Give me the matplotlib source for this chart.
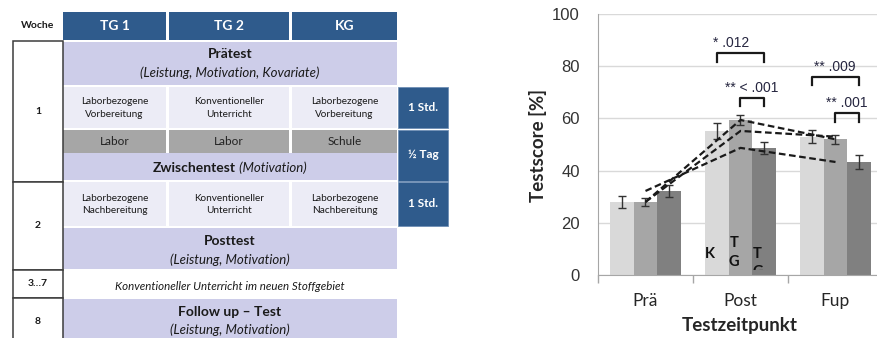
import matplotlib
matplotlib.use("Agg")
import matplotlib.pyplot as plt
from matplotlib.patches import Rectangle
from matplotlib.transforms import Bbox, TransformedBbox

# ---------------- data ----------------
timepoints = ["Prä", "Post", "Fup"]
groups = ["KG", "TG 2", "TG 1"]
scores_kg = [28.0, 55.2, 53.0]
scores_tg2 = [28.0, 59.4, 52.0]
scores_tg1 = [32.2, 48.7, 43.3]
err_kg = [2.3, 3.0, 2.5]
err_tg2 = [1.6, 2.0, 1.8]
err_tg1 = [2.3, 2.3, 2.5]
y_ticks = [0, 20, 40, 60, 80, 100]

sig_labels = ["* .012", "** < .001", "** .009", "** .001"]
sig_time = [1, 1, 2, 2]
sig_from = [0, 1, 0, 1]
sig_to = [2, 2, 2, 2]
sig_height = [85.0, 68.0, 76.0, 62.0]

bar_letters = ["K", "T\nG", "T\nG"]

# table texts
table_head_label = "Woche"
header_groups = ["TG 1", "TG 2", "KG"]
row_prep = ["Laborbezogene\nVorbereitung", "Konventioneller\nUnterricht", "Laborbezogene\nVorbereitung"]
row_place = ["Labor", "Labor", "Schule"]
row_follow = ["Laborbezogene\nNachbereitung", "Konventioneller\nUnterricht", "Laborbezogene\nNachbereitung"]
weeks = ["1", "2", "3…7", "8"]
durations = ["1 Std.", "½ Tag", "1 Std."]
pretest = ("Prätest", "(Leistung, Motivation, Kovariate)")
midtest = ("Zwischentest", "(Motivation)")
posttest = ("Posttest", "(Leistung, Motivation)")
between = "Konventioneller Unterricht im neuen Stoffgebiet"
followup = ("Follow up – Test", "(Leistung, Motivation)")

# ---------------- figure ----------------
W, H = 878, 338
fig = plt.figure(figsize=(W / 100, H / 100), dpi=100)
fig.patch.set_facecolor("white")

FAM = ["Lato", "DejaVu Sans"]
BLUE = "#2f5b8c"
LAV = "#cdcde9"
LIGHT = "#ececf6"
GRAY = "#a6a6a6"

tax = fig.add_axes([0, 0, 1, 1])
tax.set_xlim(0, W)
tax.set_ylim(H, 0)
tax.axis("off")


def rect(x0, y0, x1, y1, fc, ec="none", lw=0):
    tax.add_patch(Rectangle((x0, y0), x1 - x0, y1 - y0, facecolor=fc,
                            edgecolor=ec, linewidth=lw))


def txt(x, y, s, size, weight="normal", style="normal", color="#1a1a1a",
        ha="center", ls=1.3):
    return tax.text(x, y, s, fontsize=size, fontweight=weight, fontstyle=style,
                    color=color, ha=ha, va="center", family=FAM, linespacing=ls)


# columns
cols = [(63, 166), (169, 289), (292, 397)]
mid = (63 + 397) / 2

# header
txt(38, 26, table_head_label, 7.5, "bold")
for (a, b), s in zip(cols, header_groups):
    rect(a, 12, b, 39.5, BLUE)
    txt((a + b) / 2, 26, s, 10, "bold", color="white")

# pretest band
rect(63, 42, 397, 85, LAV)
txt(mid, 54, pretest[0], 10, "bold")
txt(mid, 73, pretest[1], 9.5, style="italic")

# preparation row
for (a, b), s in zip(cols, row_prep):
    rect(a, 87, b, 128, LIGHT)
    txt((a + b) / 2, 108, s, 7.2, ls=1.45)

# place row
for (a, b), s in zip(cols, row_place):
    rect(a, 130, b, 153, GRAY)
    txt((a + b) / 2, 141.5, s, 8.5, color="#222222")

# midtest
rect(63, 153, 397, 180, LAV)
r = fig.canvas.get_renderer()
t1 = txt(0, 168, midtest[0], 10, "bold", ha="left")
t2 = txt(0, 168, " " + midtest[1], 9.5, style="italic", ha="left")
w1 = t1.get_window_extent(r).width
w2 = t2.get_window_extent(r).width
x_start = mid - (w1 + w2) / 2
t1.set_x(x_start)
t2.set_x(x_start + w1)

# follow-up lessons row
for (a, b), s in zip(cols, row_follow):
    rect(a, 182, b, 226, LIGHT)
    txt((a + b) / 2, 204.5, s, 7.2, ls=1.45)

# posttest
rect(63, 228, 397, 269, LAV)
txt(mid, 241, posttest[0], 10, "bold")
txt(mid, 260, posttest[1], 9.5, style="italic")

# between row
txt(mid, 286, between, 8.3, style="italic")

# follow up test
rect(63, 299, 397, 345, LAV)
txt(mid, 312, followup[0], 10, "bold")
txt(mid, 330, followup[1], 9.5, style="italic")

# week column
week_rows = [(41, 182), (182, 270), (270, 298), (298, 345)]
for (a, b), s in zip(week_rows, weeks):
    rect(13, a, 63, b, "white", ec="#3c3c3c", lw=1.1)
    txt(38, (a + b) / 2 if b < 340 else 321, s, 7.5, "bold")

# duration column
dur_rows = [(87, 128), (129.5, 180.5), (182, 225.5)]
for (a, b), s in zip(dur_rows, durations):
    rect(398, a, 448, b, BLUE, ec="#6f8fb5", lw=0.6)
    txt(423, (a + b) / 2, s, 8.5, "bold", color="white")

# ---------------- chart ----------------
ax = fig.add_axes([598 / W, 1 - 275 / H, (883 - 598) / W, (275 - 14) / H])
ax.set_xlim(-0.5, 2.5)
ax.set_ylim(0, 100)

series = [scores_kg, scores_tg2, scores_tg1]
errors = [err_kg, err_tg2, err_tg1]
colors = ["#d9d9d9", "#a6a6a6", "#808080"]
offsets = [-0.25, 0.0, 0.25]
xs = list(range(len(timepoints)))

for vals, errs, c, off in zip(series, errors, colors, offsets):
    ax.bar([x + off for x in xs], vals, width=0.25, color=c, zorder=2,
           yerr=errs, error_kw=dict(ecolor="#333333", elinewidth=1.0,
                                    capsize=3, capthick=1.0, zorder=3))

for vals in series:
    ax.plot(xs, vals, color="#1a1a1a", lw=1.6, ls=(0, (3, 1.6)), zorder=4)

# significance brackets
sig_align = ["left", "center", "center", "center"]
for lab, t, g0, g1, h, al in zip(sig_labels, sig_time, sig_from, sig_to,
                                 sig_height, sig_align):
    x0 = t + offsets[g0]
    x1 = t + offsets[g1]
    ax.plot([x0, x0, x1, x1], [h - 3.3, h, h, h - 3.3], color="#1a1a1a",
            lw=1.6, zorder=5, clip_on=False)
    tx = x0 - 0.04 if al == "left" else (x0 + x1) / 2 - 0.01
    ax.text(tx, h + 3.8, lab, fontsize=10, color="#262640", ha=al,
            va="center", family=["Liberation Sans", "DejaVu Sans"], zorder=6)

# letters inside the post bars
letter_y = [8.0, 8.6, 4.6]
clip = TransformedBbox(Bbox([[-0.5, 1.9], [2.5, 100]]), ax.transData)
for s, off, yy in zip(bar_letters, offsets, letter_y):
    tt = ax.text(1 + off - 0.07, yy, s, fontsize=10.5, fontweight="bold",
                 color="#111111", ha="center", va="center", family=FAM,
                 linespacing=1.45, zorder=6)
    tt.set_clip_box(clip)
    tt.set_clip_on(True)

ax.set_yticks(y_ticks)
ax.yaxis.grid(True, color="#d9d9d9", lw=1.0)
ax.set_axisbelow(True)
ax.tick_params(axis="y", length=0, pad=13, labelsize=12, labelcolor="#333333")
for lab in ax.get_yticklabels():
    lab.set_family(["Liberation Sans", "DejaVu Sans"])

ax.set_xticks(xs)
ax.set_xticklabels(timepoints, family=FAM, fontsize=12.5, color="#262626")
ax.tick_params(axis="x", which="major", length=0, pad=13)
ax.set_xticks([-0.5, 0.5, 1.5, 2.5], minor=True)
ax.tick_params(axis="x", which="minor", length=6, color="#a6a6a6", width=1)

for sp in ["top", "right"]:
    ax.spines[sp].set_visible(False)
ax.spines["left"].set_color("#a6a6a6")
ax.spines["bottom"].set_color("#a6a6a6")

fig.text(538 / W, 1 - 145 / H, "Testscore [%]", rotation=90, ha="center",
         va="center", fontsize=13.5, fontweight="bold", family=FAM,
         color="#262626")
fig.text(740 / W, 1 - 326 / H, "Testzeitpunkt", ha="center", va="center",
         fontsize=13.5, fontweight="bold", family=FAM, color="#262626")

fig.savefig("out.png", dpi=100)
